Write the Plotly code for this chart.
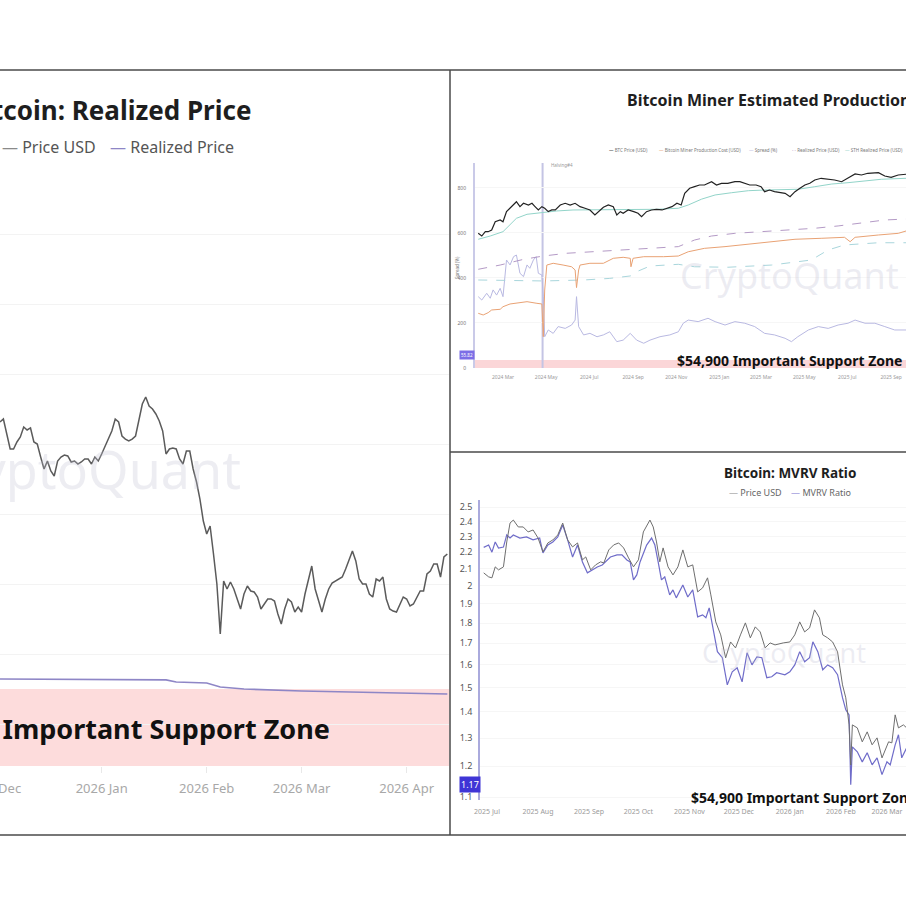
import math
import pandas as pd
import plotly.graph_objects as go

W = H = 906
FONT = "Noto Sans"


def px(x):
    return x / W


def py(y):
    return 1 - y / H


# ---------------- Left panel: Bitcoin Realized Price ----------------
left_start = "2025-12-02"
left_price = [
    # Dec 2 - Dec 31
    93140, 93570, 91430, 89290, 89290, 90290, 91000, 92430, 92000, 92290,
    90290, 90000, 88140, 86430, 87570, 86140, 85430, 87570, 88140, 88430,
    88290, 87430, 87570, 87140, 87430, 87860, 87860, 87140, 88140, 87570,
    # Jan
    88570, 89710, 90710, 91860, 93570, 93140, 91140, 90710, 90430, 90710,
    91140, 93570, 95710, 96710, 95430, 95000, 94290, 93290, 91860, 88570,
    89290, 89430, 89290, 87860, 87140, 89000, 89000, 86430, 84570, 82140, 79000,
    # Feb
    77140, 78290, 74290, 70000, 62860, 70430, 69290, 70290, 69290, 67860,
    66430, 68570, 69710, 69000, 68860, 68140, 66430, 67140, 67860, 67860,
    67570, 65710, 64290, 66430, 67860, 67430, 66000, 66710,
    # Mar
    66000, 68570, 70710, 72570, 69290, 67430, 66000, 67860, 69290, 70140,
    70430, 70710, 71000, 72140, 73570, 74710, 73290, 70710, 70000, 70000,
    68570, 68140, 70710, 70430, 71000, 67860, 66430, 66140, 66000, 67140, 68140,
    # Apr 1 - 13
    67860, 66860, 67140, 68140, 69000, 69000, 71430, 71860, 72860, 72860,
    71000, 73860, 74290,
]
realized_dates = ["2025-12-02", "2025-12-20", "2026-01-10", "2026-01-20", "2026-01-23",
                  "2026-02-01", "2026-02-05", "2026-02-12", "2026-03-01", "2026-03-15",
                  "2026-03-30", "2026-04-13"]
realized_vals = [56430, 56400, 56350, 56300, 56000, 55860, 55290, 55000, 54710, 54570,
                 54430, 54290]
left_support = (44000, 55000)
left_range_x = ["2025-12-02", "2026-04-13 12:00"]
left_range_y = [44000, 130000]

# ---------------- Top-right: Miner Estimated Production Cost ----------------
miner_base = "2024-03-01"
btc_days = [-35, -30, -25, -21, -16, -11, -4, 0, 5, 10, 15, 19, 24, 29, 36, 41, 45, 50, 55, 59,
            64, 69, 74, 81, 88, 95, 102, 109, 116, 123, 130, 135, 142, 149, 156, 161, 166, 170,
            177, 185, 191, 196, 203, 210, 217, 225, 232, 239, 246, 252, 257, 264, 271, 278, 285,
            295, 302, 309, 318, 328, 335, 342, 349, 358, 365, 370, 377, 384, 392, 399, 406, 413,
            420, 427, 434, 441, 450, 460, 469, 479, 488, 498, 507, 516, 531, 540, 549, 559, 570]
btc_usd = [39700, 37700, 41000, 41000, 42400, 49700, 51400, 49700, 60400, 64500,
           68700, 73200, 66500, 71000, 68700, 71000, 67000, 62400, 66500, 64500,
           60400, 62400, 62400, 68700, 71000, 68700, 71000, 66500, 64500, 62400,
           56600, 60400, 65700, 68700, 66500, 56600, 60400, 58500, 62400, 60400,
           58500, 54800, 60400, 62400, 63200, 62400, 64500, 66500, 71000, 68700,
           86100, 94900, 97900, 101200, 101200, 107800, 101200, 104500, 104500, 107800,
           107800, 104500, 101200, 101200, 97900, 88900, 91800, 88900, 87100, 86100,
           80700, 88900, 94900, 101200, 104500, 111500, 115200, 113000, 111500, 107800,
           115200, 125200, 122800, 126900, 128300, 120400, 117400, 122800, 124500]
sth_days = [-35, -18, 0, 10, 19, 34, 52, 76, 99, 123, 147, 170, 194, 217, 248, 262, 281, 300,
            323, 347, 370, 394, 417, 441, 465, 488, 512, 535, 570]
sth_usd = [35400, 37700, 41000, 46700, 53100, 57400, 59200, 61200, 62400, 62400,
           62400, 62400, 62400, 63200, 64500, 68700, 77000, 83400, 87100, 90600,
           91800, 93100, 93100, 97900, 103100, 105800, 110000, 113000, 115200]
rp_days = [-35, -4, 29, 57, 90, 123, 161, 199, 248, 271, 295, 328, 365, 403, 441, 474, 512, 540, 570]
rp_usd = [19800, 21500, 24000, 25600, 27000, 27800, 28800, 29700, 30700, 34900,
          37700, 39700, 41000, 41800, 43800, 45800, 48800, 51400, 52400]
band_days = [-35, 19, 57, 114, 151, 180, 189, 208, 248, 271, 318, 380, 436, 460, 483, 531, 570]
band_usd = [16100, 15900, 15800, 16100, 16600, 17400, 18900, 21100, 21800, 20800,
            20600, 21500, 23700, 28800, 31700, 33100, 33100]
cost_days = [-35, -28, -21, -16, -4, 0, 10, 19, 34, 48, 55, 57, 59, 62, 71, 85, 97, 102, 104, 107,
             109, 123, 142, 156, 170, 180, 181, 184, 199, 227, 248, 262, 285, 314, 347, 380, 413,
             450, 483, 491, 498, 531, 559, 570]
cost_usd = [8450, 8180, 8550, 9010, 9130, 9600, 10120, 10250, 10580, 10250,
            10120, 5375, 13270, 21500, 22240, 21500, 20800, 19540, 13900, 19540,
            21500, 22240, 22240, 24490, 24970, 24490, 20800, 24490, 25270, 25270,
            25600, 27800, 29700, 30700, 32110, 33780, 35400, 36060, 36770, 33780,
            36770, 38450, 39700, 41540]
spread_days = [-35, -30, -23, -18, -14, -9, -4, 0, 5, 10, 15, 19, 24, 29, 34, 38, 43, 47, 50, 55,
               57, 59, 64, 71, 78, 88, 97, 102, 104, 107, 114, 123, 133, 142, 151, 161, 170, 180,
               189, 199, 208, 222, 236, 248, 255, 262, 276, 290, 300, 314, 328, 342, 356, 370,
               384, 399, 408, 417, 432, 446, 460, 474, 488, 498, 512, 526, 540, 554, 570]
spread_pct = [317, 302, 332, 310, 347, 324, 354, 317, 480, 458,
              495, 502, 421, 406, 458, 443, 480, 495, 421, 413,
              317, 139, 169, 154, 184, 176, 191, 213, 317, 184,
              147, 154, 139, 147, 161, 117, 124, 154, 124, 110,
              124, 139, 147, 161, 199, 213, 206, 221, 206, 191,
              206, 199, 184, 154, 147, 132, 117, 139, 169, 184,
              176, 191, 199, 213, 199, 199, 184, 169, 169]
halving_date = "2024-04-26"
miner_support = (0, 35)
miner_range_x = ["2024-01-21 10:00", "2025-09-22"]
spread_range = [0, 911]
spread_ticks = [0, 200, 400, 600, 800]
miner_price_log_range = [3.4672, 5.1899]
miner_legend = [("—", "#222222", "BTC Price (USD)", 607),
                ("—", "#e8a070", "Bitcoin Miner Production Cost (USD)", 657),
                ("—", "#b9b9e2", "Spread (%)", 747),
                ("- -", "#b096c0", "Realized Price (USD)", 790),
                ("—", "#8fd3c8", "STH Realized Price (USD)", 843)]

# ---------------- Bottom-right: MVRV Ratio ----------------
mvrv_base = "2025-07-01"
mvrv_days = [-2, 1, 3, 5, 7, 10, 12, 14, 16, 20, 24, 28, 32, 34, 37, 40, 43, 46, 49, 50,
             52, 55, 57, 58, 61, 64, 67, 70, 75, 79, 82, 85, 87, 89, 91, 93, 97, 100, 102, 104,
             106, 108, 111, 113, 115, 119, 122, 125, 128, 131, 133, 135, 137, 140, 143, 146, 149,
             152, 155, 158, 161, 164, 167, 170, 173, 176, 181, 184, 187, 190, 193, 196, 198, 201,
             204, 207, 210, 213, 216, 218, 220, 221, 222, 225, 228, 231, 234, 237, 240, 243, 245,
             248, 250, 252, 255]
mvrv_vals = [2.23, 2.245, 2.20, 2.265, 2.226, 2.232, 2.31, 2.29, 2.31, 2.29,
             2.297, 2.278, 2.29, 2.195, 2.245, 2.265, 2.297, 2.376, 2.278, 2.245,
             2.17, 2.245, 2.183, 2.14, 2.075, 2.092, 2.11, 2.122, 2.17, 2.183,
             2.183, 2.152, 2.14, 2.034, 2.063, 2.14, 2.245, 2.29, 2.245, 2.14,
             2.034, 2.051, 1.95, 1.977, 1.933, 2.005, 1.938, 1.977, 1.832, 1.842,
             1.827, 1.879, 1.781, 1.66, 1.632, 1.511, 1.568, 1.586, 1.524, 1.655,
             1.599, 1.636, 1.632, 1.542, 1.546, 1.564, 1.555, 1.568, 1.599, 1.66,
             1.613, 1.632, 1.707, 1.66, 1.577, 1.599, 1.586, 1.555, 1.457, 1.408,
             1.388, 1.139, 1.268, 1.25, 1.215, 1.247, 1.205, 1.229, 1.172, 1.215,
             1.205, 1.275, 1.312, 1.229, 1.265]
mprice_days = [-2, 1, 3, 5, 7, 10, 12, 14, 16, 19, 22, 25, 28, 31, 34, 37, 40, 43, 46, 49,
               52, 55, 58, 60, 63, 66, 69, 71, 74, 77, 80, 83, 86, 89, 92, 95, 99, 101, 103, 105,
               107, 110, 113, 116, 119, 122, 125, 128, 131, 134, 136, 139, 142, 145, 148, 151,
               154, 157, 160, 163, 166, 169, 172, 175, 180, 184, 187, 190, 193, 196, 199, 202,
               204, 207, 210, 213, 216, 218, 220, 221, 222, 225, 228, 231, 234, 237, 240, 244,
               246, 248, 250, 253, 255]
mprice_usd = [107040, 105840, 105550, 108880, 107960, 108880, 116830, 123250, 124300, 121900,
              121900, 120190, 120860, 118160, 113590, 116500, 117490, 119170, 123250, 117490,
              115200, 116500, 111060, 111990, 107960, 109490, 110430, 110120, 114230, 115860,
              116500, 114880, 111680, 108880, 111060, 120190, 124300, 121900, 116830, 110430,
              114880, 108880, 106430, 108880, 114230, 108880, 109490, 101440, 102590, 105550,
              100580, 93180, 89820, 84160, 88040, 86570, 89820, 92920, 89060, 91880,
              90580, 86570, 87800, 87310, 87800, 88040, 89820, 93180, 90580, 91620,
              96400, 94250, 89820, 89060, 88040, 85600, 77980, 75170, 69630, 62150,
              69630, 69040, 66370, 68270, 65810, 67120, 63420, 66370, 66180, 71630,
              69040, 69630, 69040]
mvrv_ticks = [1.1, 1.2, 1.3, 1.4, 1.5, 1.6, 1.7, 1.8, 1.9, 2.0, 2.1, 2.2, 2.3, 2.4, 2.5]
mvrv_tick_text = ["1.1", "1.2", "1.3", "1.4", "1.5", "1.6", "1.7", "1.8", "1.9", "2",
                  "2.1", "2.2", "2.3", "2.4", "2.5"]
mvrv_support = (1.0, 1.1)
mvrv_range_x = ["2025-06-26 18:00", "2026-03-12 14:00"]
mvrv_log_range = [0.0377, 0.4066]
mprice_log_range = [4.7505, 5.1191]


def to_dates(base, days):
    return pd.Timestamp(base) + pd.to_timedelta(days, unit="D")


left_dates = pd.date_range(left_start, periods=len(left_price), freq="D")

fig = go.Figure()

# Left panel traces
fig.add_trace(go.Scatter(x=left_dates, y=left_price, mode="lines", name="Price USD",
                         line=dict(color="#5b5b5b", width=1.5), xaxis="x", yaxis="y"))
fig.add_trace(go.Scatter(x=pd.to_datetime(realized_dates), y=realized_vals, mode="lines",
                         name="Realized Price", line=dict(color="#8e86c6", width=1.6),
                         xaxis="x", yaxis="y"))

# Top-right traces
fig.add_trace(go.Scatter(x=to_dates(miner_base, band_days), y=band_usd, mode="lines",
                         name="Realized Price Band", line=dict(color="#a9d6dc", width=1, dash="dash"),
                         xaxis="x2", yaxis="y3"))
fig.add_trace(go.Scatter(x=to_dates(miner_base, rp_days), y=rp_usd, mode="lines",
                         name="Realized Price (USD)", line=dict(color="#b49ac6", width=1, dash="dash"),
                         xaxis="x2", yaxis="y3"))
fig.add_trace(go.Scatter(x=to_dates(miner_base, cost_days), y=cost_usd, mode="lines",
                         name="Bitcoin Miner Production Cost (USD)", line=dict(color="#e9a274", width=1),
                         xaxis="x2", yaxis="y3"))
fig.add_trace(go.Scatter(x=to_dates(miner_base, spread_days), y=spread_pct, mode="lines",
                         name="Spread (%)", line=dict(color="#b9b9e2", width=1),
                         xaxis="x2", yaxis="y2"))
fig.add_trace(go.Scatter(x=to_dates(miner_base, sth_days), y=sth_usd, mode="lines",
                         name="STH Realized Price (USD)", line=dict(color="#92d4c9", width=1),
                         xaxis="x2", yaxis="y3"))
fig.add_trace(go.Scatter(x=to_dates(miner_base, btc_days), y=btc_usd, mode="lines",
                         name="BTC Price (USD)", line=dict(color="#222222", width=1.2),
                         xaxis="x2", yaxis="y3"))

# Bottom-right traces
fig.add_trace(go.Scatter(x=to_dates(mvrv_base, mprice_days), y=mprice_usd, mode="lines",
                         name="Price USD", line=dict(color="#6e6e6e", width=1),
                         xaxis="x3", yaxis="y5"))
fig.add_trace(go.Scatter(x=to_dates(mvrv_base, mvrv_days), y=mvrv_vals, mode="lines",
                         name="MVRV Ratio", line=dict(color="#6f6cc9", width=1.2),
                         xaxis="x3", yaxis="y4"))

axis_common = dict(zeroline=False, showgrid=False)

fig.update_layout(
    width=W, height=H, margin=dict(l=0, r=0, t=0, b=0, autoexpand=False),
    paper_bgcolor="white", plot_bgcolor="rgba(0,0,0,0)", showlegend=False,
    font=dict(family=FONT, color="#444"),
    xaxis=dict(domain=[0, px(449)], anchor="y", type="date", range=left_range_x,
               tick0="2025-12-01", dtick="M1", tickformat="%Y %b",
               ticks="outside", ticklen=6, tickcolor="#e8e8e8",
               tickfont=dict(size=13, color="#a8a8a8"), ticklabelstandoff=4,
               showline=False, **axis_common),
    yaxis=dict(domain=[py(766), py(164)], anchor="x", range=left_range_y, dtick=10000,
               showticklabels=False, showgrid=True, gridcolor="#f3f3f3", zeroline=False),
    xaxis2=dict(domain=[px(475), 1], anchor="y2", type="date", range=miner_range_x,
                tick0="2024-03-01", dtick="M2", tickformat="%Y %b",
                tickfont=dict(size=5, color="#9a9a9a"), ticklabelstandoff=5, **axis_common),
    yaxis2=dict(domain=[py(368), py(163)], anchor="x2", range=spread_range,
                tickvals=spread_ticks, tickfont=dict(size=5, color="#777"),
                ticklabelstandoff=6, showline=True, linecolor="#cacae8", linewidth=2,
                showgrid=True, gridcolor="#f6f6f6", zeroline=False),
    yaxis3=dict(overlaying="y2", anchor="x2", type="log", range=miner_price_log_range,
                visible=False),
    xaxis3=dict(domain=[px(480), 1], anchor="y4", type="date", range=mvrv_range_x,
                tick0="2025-07-01", dtick="M1", tickformat="%Y %b",
                tickfont=dict(size=7, color="#9a9a9a"), ticklabelstandoff=6, **axis_common),
    yaxis4=dict(domain=[py(800), py(500)], anchor="x3", type="log", range=mvrv_log_range,
                tickvals=mvrv_ticks, ticktext=mvrv_tick_text,
                tickfont=dict(size=9, color="#555"), ticklabelstandoff=4,
                showline=True, linecolor="#aaaadd", linewidth=1.5,
                showgrid=True, gridcolor="#f6f6f6", zeroline=False),
    yaxis5=dict(overlaying="y4", anchor="x3", type="log", range=mprice_log_range,
                visible=False),
)

shapes = [
    # support zones
    dict(type="rect", xref="x domain", yref="y", x0=0, x1=1,
         y0=left_support[0], y1=left_support[1], fillcolor="#fddcdc",
         line=dict(width=0), layer="below"),
    dict(type="rect", xref="x2 domain", yref="y2", x0=0, x1=1,
         y0=miner_support[0], y1=miner_support[1], fillcolor="#fbd6d8",
         line=dict(width=0), layer="below"),
    dict(type="rect", xref="x3 domain", yref="y4", x0=0, x1=1,
         y0=math.log10(mvrv_support[0]), y1=math.log10(mvrv_support[1]),
         fillcolor="#fbd6d8", line=dict(width=0), layer="below"),
    # halving marker
    dict(type="line", xref="x2", yref="y2 domain", x0=halving_date, x1=halving_date,
         y0=0, y1=1, line=dict(color="#c4c4e4", width=2), layer="below"),
    # panel borders
    dict(type="line", xref="paper", yref="paper", x0=0, x1=1, y0=py(70), y1=py(70),
         line=dict(color="#4a4a4a", width=1.5)),
    dict(type="line", xref="paper", yref="paper", x0=0, x1=1, y0=py(835), y1=py(835),
         line=dict(color="#4a4a4a", width=1.5)),
    dict(type="line", xref="paper", yref="paper", x0=px(450), x1=px(450), y0=py(835), y1=py(70),
         line=dict(color="#4a4a4a", width=1.5)),
    dict(type="line", xref="paper", yref="paper", x0=px(450), x1=1, y0=py(452), y1=py(452),
         line=dict(color="#4a4a4a", width=1.5)),
]
fig.update_layout(shapes=shapes)

wm = "rgba(190,190,210,0.28)"
ann = []


def add(text, x, y, size, color="#444", xanchor="left", yanchor="middle", **kw):
    ann.append(dict(text=text, x=px(x), y=py(y), xref="paper", yref="paper",
                    xanchor=xanchor, yanchor=yanchor, showarrow=False,
                    font=dict(family=FONT, size=size, color=color), **kw))


# Left panel texts
add("<b>Bitcoin: Realized Price</b>", 253, 110, 26, "#1e1e1e", xanchor="right")
add("<span style='color:#8a8a8a'>—</span> Price USD", 0, 147, 16, "#555")
add("<span style='color:#8e86c6'>—</span> Realized Price", 108, 147, 16, "#555")
add("CryptoQuant", 243, 468, 52, wm, xanchor="right")
add("<b>$54,900 Important Support Zone</b>", 332, 728, 27, "#111", xanchor="right")
add("2025 Dec", 23, 788, 13, "#a8a8a8", xanchor="right")

# Top-right texts
add("<b>Bitcoin Miner Estimated Production Cost</b>", 625, 100, 16, "#1e1e1e")
for dash, col, label, xpos in miner_legend:
    add(f"<span style='color:{col}'>{dash}</span> {label}", xpos, 150, 4.5, "#777")
add("Halving#4", 549, 165, 4.5, "#999")
add("Spread (%)", 457, 268, 4.5, "#777", xanchor="center", textangle=-90)
add("55.82", 467, 355, 4.5, "white", xanchor="center", bgcolor="#7c6ee6")
add("CryptoQuant", 789, 275, 36, wm, xanchor="center")
add("<b>$54,900 Important Support Zone</b>", 675, 361, 14, "#111")

# Bottom-right texts
add("<b>Bitcoin: MVRV Ratio</b>", 790, 473, 13.5, "#1e1e1e", xanchor="center")
add("<span style='color:#8a8a8a'>—</span> Price USD    "
    "<span style='color:#7a74d0'>—</span> MVRV Ratio", 790, 492, 9, "#666", xanchor="center")
add("1.17", 470, 784, 9, "white", xanchor="center", bgcolor="#3f35d6")
add("CryptoQuant", 784, 652, 27, wm, xanchor="center")
add("<b>$54,900 Important Support Zone</b>", 689, 797, 14, "#111")

fig.update_layout(annotations=ann)

fig.write_html("out.html")
